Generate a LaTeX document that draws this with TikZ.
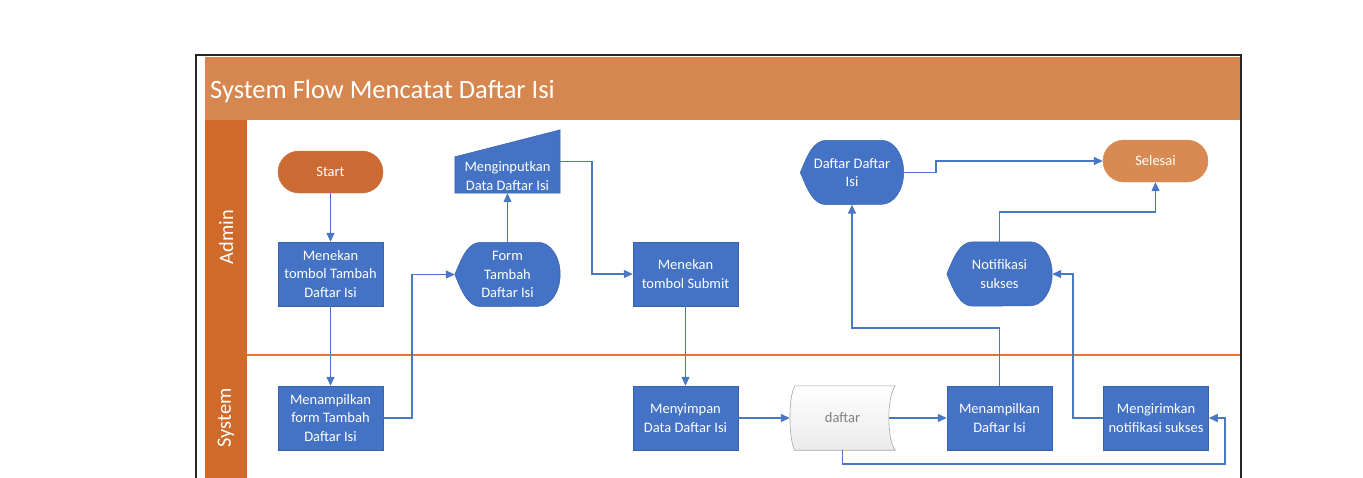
\documentclass[tikz,border=0pt]{standalone}
\usepackage{fontspec}
\setmainfont{Carlito}
\usetikzlibrary{arrows.meta,calc,backgrounds}
\definecolor{titleor}{HTML}{D6874F}
\definecolor{laneor}{HTML}{D06A2B}
\definecolor{startor}{HTML}{CB6A33}
\definecolor{termor}{HTML}{D98A52}
\definecolor{boxblue}{HTML}{4472C4}
\definecolor{boxedge}{HTML}{3A62AC}
\definecolor{lineblue}{HTML}{4A76C6}
\definecolor{divline}{HTML}{E0782F}
\definecolor{storeedge}{HTML}{A6A6A6}
\definecolor{storetext}{HTML}{808080}
\newcommand\dispfig[1]{%
  \path[shapefill] (#1.west)
    .. controls ($(#1.west)+(7,-17)$) and ($(#1.north west)+(13,0)$) .. ($(#1.north west)+(26,0)$)
    -- ($(#1.north east)+(-22,0)$) arc[start angle=90,end angle=-90,x radius=22pt,y radius=32pt]
    -- ($(#1.south west)+(26,0)$)
    .. controls ($(#1.south west)+(13,0)$) and ($(#1.west)+(7,17)$) .. (#1.west) -- cycle;}
\begin{document}
\begin{tikzpicture}[x=1pt,y=-1pt,
  txt/.style={text=white, align=center, font=\fontsize{14.5}{18.3}\selectfont, inner sep=0pt},
  proc/.style={txt, rectangle, fill=boxblue, draw=boxedge, line width=0.5pt, minimum width=105pt, minimum height=64pt},
  term/.style={txt, rectangle, rounded corners=21pt, fill=termor, draw=termor, minimum width=105pt, minimum height=42pt},
  shapebox/.style={txt, rectangle, minimum width=105pt, minimum height=64pt},
  shapefill/.style={fill=boxblue, draw=boxedge, line width=0.5pt},
  conn/.style={draw=lineblue, line width=1.4pt, -{Triangle[length=9pt,width=8pt]}},
  lanelbl/.style={text=white, font=\fontsize{20.4}{24}\selectfont, rotate=90, inner sep=0pt}
]
\useasboundingbox (0,0) rectangle (1363,477);
\clip (0,0) rectangle (1363,477);

% title and lane labels
\node[anchor=base west, text=white, font=\fontsize{26.5}{30}\selectfont, inner sep=0pt] (title) at (210,98) {System Flow Mencatat Daftar Isi};
\node[lanelbl] (admin) at (226,237) {Admin};
\node[lanelbl] (system) at (226,418) {System};

% nodes
\node[term, fill=startor, draw=startor] (start) at (330.5,172) {Start};
\node[proc] (tekan) at (330.5,274) {Menekan\\tombol Tambah\\Daftar Isi};
\node[proc] (tampform) at (330.5,418) {Menampilkan\\form Tambah\\Daftar Isi};
\node[shapebox] (form) at (507.5,274.5) {Form\\Tambah\\Daftar Isi};
\node[shapebox, minimum height=63pt] (input) at (507.5,161.5) {};
\node[txt] (inputtxt) at (507.5,176) {Menginputkan\\Data Daftar Isi};
\node[proc] (submit) at (685.5,274) {Menekan\\tombol Submit};
\node[proc] (simpan) at (685.5,418) {Menyimpan\\Data Daftar Isi};
\node[shapebox, text=storetext] (daftar) at (842.5,418) {daftar};
\node[proc] (tampdaftar) at (999.5,418) {Menampilkan\\Daftar Isi};
\node[proc] (kirim) at (1156,418) {Mengirimkan\\notifikasi sukses};
\node[shapebox] (notif) at (999.5,274) {Notifikasi\\sukses};
\node[shapebox, minimum width=103pt] (dds) at (852,172.5) {Daftar Daftar\\Isi};
\node[term] (selesai) at (1155.5,161) {Selesai};

\begin{pgfonlayer}{background}
  \fill[white] (0,0) rectangle (1363,477);
  \fill[titleor] (205,57) rectangle (1240,120);
  \fill[laneor] (205,120) rectangle (247,480);
  \draw[divline, line width=1.2pt] (247,355) -- (1240,355);
  \draw[black!85, line width=1.6pt] (196,480) -- (196,55) -- (1241,55) -- (1241,480);
  % manual input
  \path[shapefill] (input.south west) -- ($(input.north west)+(0,27)$) -- (input.north east) -- (input.south east) -- cycle;
  % displays
  \dispfig{form}
  \dispfig{notif}
  \dispfig{dds}
  % stored data
  \path[draw=storeedge, line width=0.6pt, top color=white, bottom color=black!8]
    ($(daftar.north west)+(5,0)$) -- ($(daftar.north east)$)
    .. controls ($(daftar.north east)+(-8.5,11)$) and ($(daftar.south east)+(-8.5,-11)$) .. (daftar.south east)
    -- ($(daftar.south west)+(5,0)$)
    .. controls ($(daftar.south west)+(-1.5,-11)$) and ($(daftar.north west)+(-1.5,11)$) .. ($(daftar.north west)+(5,0)$) -- cycle;
\end{pgfonlayer}

% connectors
\coordinate (c3) at (412,418);
\coordinate (c5) at (592,274);
\coordinate (c9) at (852,328);
\coordinate (c10) at (1225,464);
\coordinate (c11) at (1073,418);
\coordinate (c12) at (1155.5,212);
\coordinate (c13) at (936,172.5);

\draw[conn] (start) -- (tekan);
\draw[conn] (tekan) -- (tampform);
\draw[conn] (tampform.east) -- (c3) |- (form.west);
\draw[conn] (form.north) -- (input.south);
\draw[conn] (input.east) -| (c5) -- (submit.west);
\draw[conn] (submit) -- (simpan);
\draw[conn] (simpan) -- (daftar.west);
\draw[conn] ($(daftar.east)+(-6,0)$) -- (tampdaftar.west);
\draw[conn] (tampdaftar.north) |- (c9) -- (dds.south);
\draw[conn] (daftar.south) |- (c10) |- (kirim.east);
\draw[conn] (kirim.west) -- (c11) |- (notif.east);
\draw[conn] (notif.north) |- (c12) -- (selesai.south);
\draw[conn] (dds.east) -- (c13) |- (selesai.west);
\end{tikzpicture}
\end{document}
